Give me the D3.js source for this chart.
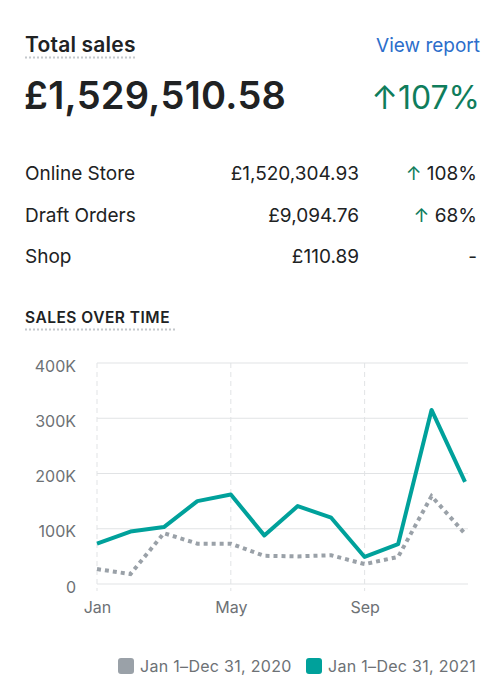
<!DOCTYPE html>
<html>
<head>
  <title>Total sales</title>
  <script src="https://d3js.org/d3.v7.min.js"></script>
  <style>
    body { margin: 0; background: #fff; font-family: "Inter", "Noto Sans", sans-serif; }
  </style>
</head>
<body>
<script type="text/javascript">

// ****** DATA ******

  var months = ["Jan", "Feb", "Mar", "Apr", "May", "Jun", "Jul", "Aug", "Sep", "Oct", "Nov", "Dec"];
  var sales2020 = [27000, 18000, 92000, 73000, 73000, 51000, 50000, 52000, 36000, 49000, 159000, 91000];
  var sales2021 = [73000, 95000, 103000, 150000, 162000, 88000, 141000, 120000, 49000, 72000, 315000, 185000];
  var yTicks = [0, 100000, 200000, 300000, 400000];
  var xTickMonths = ["Jan", "May", "Sep"];
  var channels = ["Online Store", "Draft Orders", "Shop"];
  var channelTotals = ["£1,520,304.93", "£9,094.76", "£110.89"];
  var channelChange = ["108%", "68%", null];
  var legendLabels = ["Jan 1–Dec 31, 2020", "Jan 1–Dec 31, 2021"];

  var ink = "#202223",
      muted = "#6d7175",
      green = "#0f7d5c",
      teal = "#00a19b",
      grey = "#9aa1a8",
      grid = "#e1e3e5";

// ****** SVG ******

  var svg = d3.select("body")
    .append("svg")
    .attr("width", 504)
    .attr("height", 696);

  // header
  svg.append("text")
    .attr("x", 25).attr("y", 52)
    .attr("font-size", 21).attr("font-weight", 600)
    .attr("letter-spacing", 0.2)
    .attr("fill", ink)
    .text("Total sales");
  svg.append("line")
    .attr("x1", 25).attr("x2", 136).attr("y1", 57.5).attr("y2", 57.5)
    .attr("stroke", "#c4c8cc").attr("stroke-width", 2)
    .attr("stroke-dasharray", "2 2");

  svg.append("text")
    .attr("x", 480).attr("y", 52)
    .attr("text-anchor", "end")
    .attr("font-size", 19)
    .attr("fill", "#2c6ecb")
    .text("View report");

  svg.append("text")
    .attr("x", 24).attr("y", 109)
    .attr("font-size", 38).attr("font-weight", 600)
    .attr("letter-spacing", 0.3)
    .attr("fill", ink)
    .text("£1,529,510.58");

  svg.append("text")
    .attr("x", 480).attr("y", 109)
    .attr("text-anchor", "end")
    .attr("font-size", 32)
    .attr("fill", green)
    .text("↑107%");

  // channel rows
  var rows = svg.selectAll("g.row")
    .data(channels)
    .enter()
    .append("g")
    .attr("class", "row")
    .attr("transform", function (d, i) { return "translate(0," + (180 + i * 41.5) + ")"; });

  rows.append("text")
    .attr("x", 25)
    .attr("font-size", 19)
    .attr("fill", ink)
    .text(function (d) { return d; });

  rows.append("text")
    .attr("x", 359)
    .attr("text-anchor", "end")
    .attr("font-size", 19)
    .attr("fill", ink)
    .text(function (d, i) { return channelTotals[i]; });

  rows.append("text")
    .attr("x", 477)
    .attr("text-anchor", "end")
    .attr("font-size", 19)
    .attr("fill", ink)
    .each(function (d, i) {
      var t = d3.select(this);
      if (channelChange[i] === null) {
        t.text("-");
      } else {
        t.append("tspan").attr("fill", green).text("↑ ");
        t.append("tspan").text(channelChange[i]);
      }
    });

  // chart title
  svg.append("text")
    .attr("x", 25).attr("y", 323)
    .attr("font-size", 15.5).attr("font-weight", 600)
    .attr("letter-spacing", 0.5)
    .attr("fill", ink)
    .text("SALES OVER TIME");
  svg.append("line")
    .attr("x1", 25).attr("x2", 175).attr("y1", 329.5).attr("y2", 329.5)
    .attr("stroke", "#c4c8cc").attr("stroke-width", 2)
    .attr("stroke-dasharray", "2 2");

// ****** CHART ******

  var x = d3.scalePoint().domain(months).range([97, 465]);
  var y = d3.scaleLinear().domain([0, 400000]).range([584, 363]);

  var chart = svg.append("g");

  // horizontal grid
  chart.selectAll("line.hgrid")
    .data(yTicks)
    .enter()
    .append("line")
    .attr("class", "hgrid")
    .attr("x1", 97).attr("x2", 468)
    .attr("y1", function (d) { return y(d); })
    .attr("y2", function (d) { return y(d); })
    .attr("stroke", grid).attr("stroke-width", 1);

  // vertical dashed grid
  chart.selectAll("line.vgrid")
    .data(xTickMonths)
    .enter()
    .append("line")
    .attr("class", "vgrid")
    .attr("x1", function (d) { return x(d); })
    .attr("x2", function (d) { return x(d); })
    .attr("y1", y(400000)).attr("y2", 591)
    .attr("stroke", grid).attr("stroke-width", 1)
    .attr("stroke-dasharray", "5 4");

  // axes
  var yAxis = chart.append("g")
    .attr("transform", "translate(76,0)")
    .call(d3.axisLeft(y).tickValues(yTicks).tickSize(0).tickPadding(0)
      .tickFormat(function (d) { return d === 0 ? "0" : d / 1000 + "K"; }));
  yAxis.select(".domain").remove();
  yAxis.selectAll("text")
    .attr("font-family", "Inter, 'Noto Sans', sans-serif")
    .attr("font-size", 16)
    .attr("fill", muted)
    .attr("dy", "0.5em");

  var xAxis = chart.append("g")
    .attr("transform", "translate(0,602)")
    .call(d3.axisBottom(x).tickValues(xTickMonths).tickSize(0).tickPadding(0));
  xAxis.select(".domain").remove();
  xAxis.selectAll("text")
    .attr("font-family", "Inter, 'Noto Sans', sans-serif")
    .attr("font-size", 16)
    .attr("fill", muted);

  var line = d3.line()
    .x(function (d, i) { return x(months[i]); })
    .y(function (d) { return y(d); });

  chart.append("path")
    .datum(sales2020)
    .attr("d", line)
    .attr("fill", "none")
    .attr("stroke", grey)
    .attr("stroke-width", 4)
    .attr("stroke-dasharray", "4 4");

  chart.append("path")
    .datum(sales2021)
    .attr("d", line)
    .attr("fill", "none")
    .attr("stroke", teal)
    .attr("stroke-width", 4)
    .attr("stroke-linejoin", "round");

// ****** LEGEND ******

  var legendX = [118, 306];
  var legendColors = [grey, teal];
  var legend = svg.selectAll("g.legend")
    .data(legendLabels)
    .enter()
    .append("g")
    .attr("class", "legend")
    .attr("transform", function (d, i) { return "translate(" + legendX[i] + ",658)"; });

  legend.append("rect")
    .attr("width", 16).attr("height", 16)
    .attr("rx", 3)
    .attr("fill", function (d, i) { return legendColors[i]; });

  legend.append("text")
    .attr("x", 22).attr("y", 14)
    .attr("font-size", 16)
    .attr("letter-spacing", 0.3)
    .attr("fill", muted)
    .text(function (d) { return d; });
</script>
</body>
</html>
